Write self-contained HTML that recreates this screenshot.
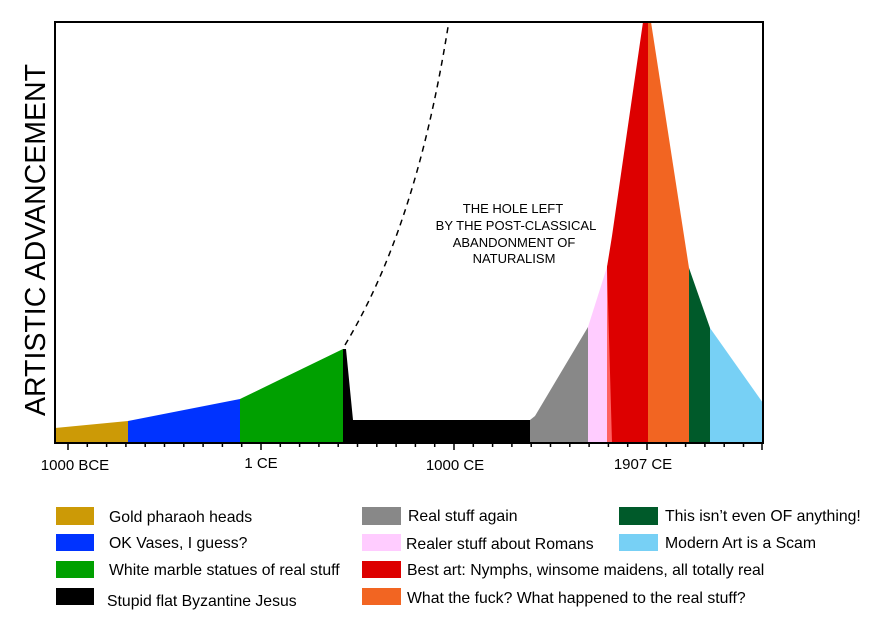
<!DOCTYPE html>
<html><head><meta charset="utf-8"><style>
body{margin:0;background:#fff;}
svg text{font-family:"Liberation Sans",Arial,sans-serif;fill:#000;}
</style></head><body>
<svg width="890" height="623" viewBox="0 0 890 623" xmlns="http://www.w3.org/2000/svg">
<polygon points="55,428 128,421 128,443 55,443" fill="#cc9a06"/>
<polygon points="128,421 240,399 240,443 128,443" fill="#0033ff"/>
<polygon points="240,399 343,349 343,443 240,443" fill="#00a000"/>
<polygon points="343,349 346,349 353,420 530,420 530,443 343,443" fill="#000"/>
<polygon points="530,420 535,416 588,327 588,443 530,443" fill="#888"/>
<polygon points="588,327 607,267 607,443 588,443" fill="#ffccff"/>
<polygon points="607,267 613,240 613,443 607,443" fill="#ff6060"/>
<polygon points="607,267 612,236 643,22 648,22 648,443 612,443" fill="#dd0000"/>
<polygon points="648,22 651,22 689,268 689,443 648,443" fill="#f26522"/>
<polygon points="689,268 710,328 710,443 689,443" fill="#005a2a"/>
<polygon points="710,328 763,403 763,443 710,443" fill="#77d0f5"/>
<path d="M345,345 C390,270 425,170 448,27" fill="none" stroke="#000" stroke-width="1.5" stroke-dasharray="6,5"/>
<rect x="55" y="22" width="708" height="421" fill="none" stroke="#000" stroke-width="2"/>
<g stroke="#000" stroke-width="1.5">
<line x1="68" y1="443" x2="68" y2="450"/><line x1="87.3" y1="443" x2="87.3" y2="447"/><line x1="106.6" y1="443" x2="106.6" y2="447"/><line x1="125.9" y1="443" x2="125.9" y2="447"/><line x1="145.2" y1="443" x2="145.2" y2="447"/><line x1="164.5" y1="443" x2="164.5" y2="447"/><line x1="183.8" y1="443" x2="183.8" y2="447"/><line x1="203.1" y1="443" x2="203.1" y2="447"/><line x1="222.4" y1="443" x2="222.4" y2="447"/><line x1="241.7" y1="443" x2="241.7" y2="447"/>
<line x1="261" y1="443" x2="261" y2="450"/><line x1="280.3" y1="443" x2="280.3" y2="447"/><line x1="299.6" y1="443" x2="299.6" y2="447"/><line x1="318.9" y1="443" x2="318.9" y2="447"/><line x1="338.2" y1="443" x2="338.2" y2="447"/><line x1="357.5" y1="443" x2="357.5" y2="447"/><line x1="376.8" y1="443" x2="376.8" y2="447"/><line x1="396.1" y1="443" x2="396.1" y2="447"/><line x1="415.4" y1="443" x2="415.4" y2="447"/><line x1="434.7" y1="443" x2="434.7" y2="447"/>
<line x1="454" y1="443" x2="454" y2="450"/><line x1="473.3" y1="443" x2="473.3" y2="447"/><line x1="492.6" y1="443" x2="492.6" y2="447"/><line x1="511.9" y1="443" x2="511.9" y2="447"/><line x1="531.2" y1="443" x2="531.2" y2="447"/><line x1="550.5" y1="443" x2="550.5" y2="447"/><line x1="569.8" y1="443" x2="569.8" y2="447"/><line x1="589.1" y1="443" x2="589.1" y2="447"/><line x1="608.4" y1="443" x2="608.4" y2="447"/><line x1="627.7" y1="443" x2="627.7" y2="447"/>
<line x1="647" y1="443" x2="647" y2="450"/><line x1="666.3" y1="443" x2="666.3" y2="447"/><line x1="685.6" y1="443" x2="685.6" y2="447"/><line x1="704.9" y1="443" x2="704.9" y2="447"/><line x1="724.2" y1="443" x2="724.2" y2="447"/><line x1="743.5" y1="443" x2="743.5" y2="447"/><line x1="762" y1="443" x2="762" y2="450"/>
</g>
<g font-size="15" text-anchor="middle">
<text x="75" y="470">1000 BCE</text>
<text x="261" y="468">1 CE</text>
<text x="455" y="470">1000 CE</text>
<text x="643" y="469">1907 CE</text>
</g>
<text transform="translate(45,240) rotate(-90)" font-size="28.5" text-anchor="middle">ARTISTIC ADVANCEMENT</text>
<g font-size="13" text-anchor="middle">
<text x="513" y="213">THE HOLE LEFT</text>
<text x="516" y="230">BY THE POST-CLASSICAL</text>
<text x="514" y="247">ABANDONMENT OF</text>
<text x="514" y="263">NATURALISM</text>
</g>
<rect x="56" y="507" width="38" height="18" fill="#cc9a06"/>
<rect x="56" y="534" width="38" height="17" fill="#0033ff"/>
<rect x="56" y="561" width="38" height="17" fill="#00a000"/>
<rect x="56" y="588" width="38" height="17" fill="#000"/>
<rect x="362" y="507" width="39" height="18" fill="#888"/>
<rect x="362" y="534" width="39" height="17" fill="#ffccff"/>
<rect x="362" y="561" width="39" height="17" fill="#dd0000"/>
<rect x="362" y="588" width="39" height="17" fill="#f26522"/>
<rect x="619" y="507" width="39" height="18" fill="#005a2a"/>
<rect x="619" y="534" width="39" height="17" fill="#77d0f5"/>
<g font-size="15.8">
<text x="109" y="522">Gold pharaoh heads</text>
<text x="109" y="548">OK Vases, I guess?</text>
<text x="109" y="575">White marble statues of real stuff</text>
<text x="107" y="606">Stupid flat Byzantine Jesus</text>
<text x="408" y="521">Real stuff again</text>
<text x="406" y="549">Realer stuff about Romans</text>
<text x="407" y="575">Best art: Nymphs, winsome maidens, all totally real</text>
<text x="407" y="603">What the fuck? What happened to the real stuff?</text>
<text x="665" y="521">This isn’t even OF anything!</text>
<text x="665" y="548">Modern Art is a Scam</text>
</g>
</svg>
</body></html>
